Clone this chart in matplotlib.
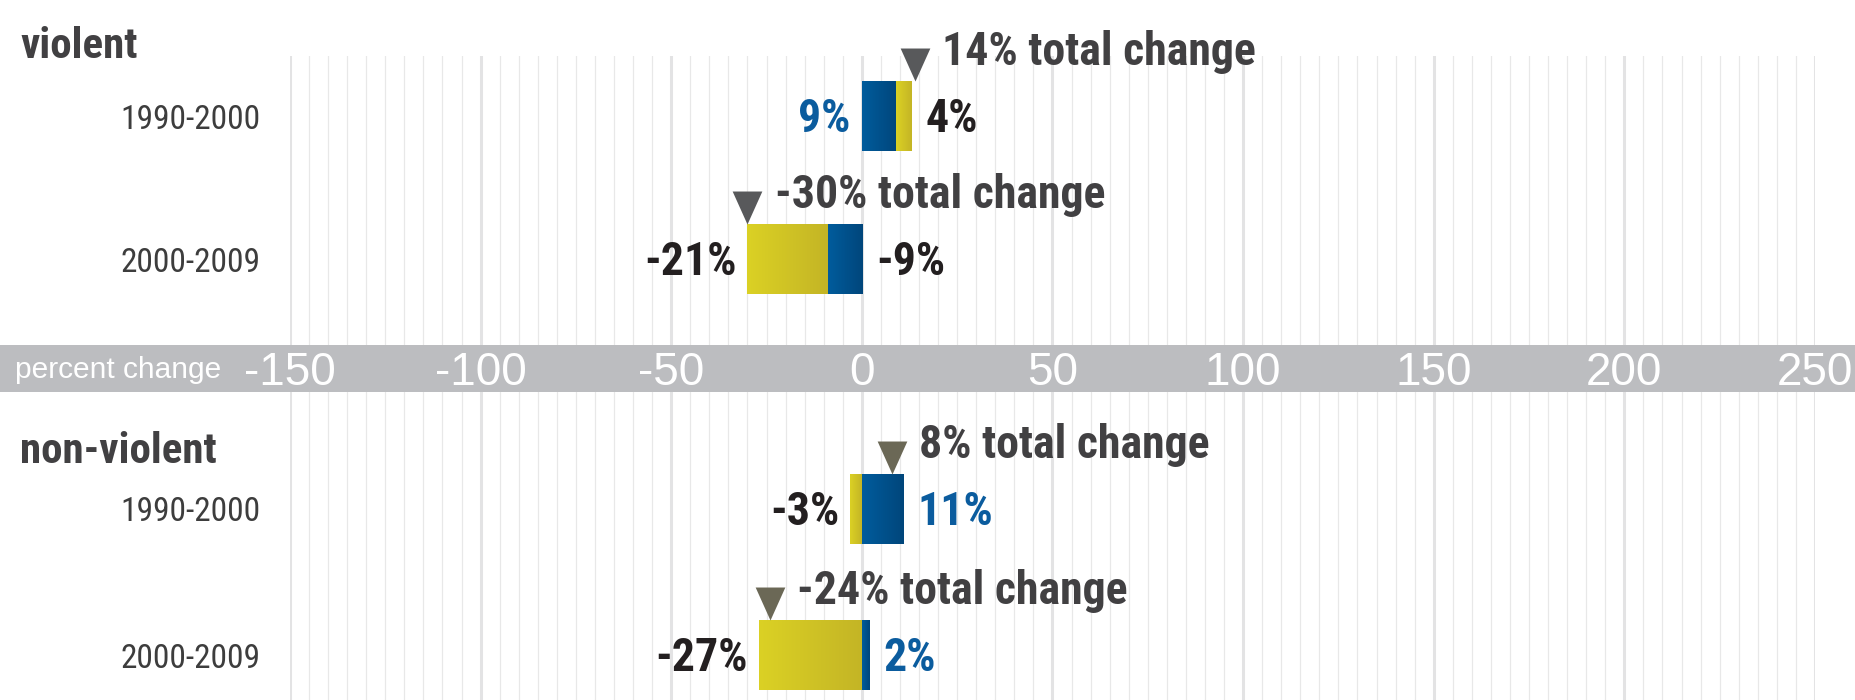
import numpy as np
import matplotlib
matplotlib.use("Agg")
import matplotlib.pyplot as plt
from matplotlib.colors import LinearSegmentedColormap
from matplotlib.patches import Rectangle
from matplotlib import transforms
from matplotlib import font_manager as fm
from matplotlib.font_manager import FontProperties

# ---------------- data ----------------
periods = ["1990-2000", "2000-2009"]
group_titles = ["violent", "non-violent"]

violent_blue = [9, -9]
violent_yellow = [4, -21]
violent_total = [14, -30]

nonviolent_blue = [11, 2]
nonviolent_yellow = [-3, -27]
nonviolent_total = [8, -24]

x_tick_values = [-150, -100, -50, 0, 50, 100, 150, 200, 250]
x_tick_labels = ["-150", "-100", "-50", "0", "50", "100", "150", "200", "250"]
axis_caption = "percent change"


# ---------------- fonts ----------------
def find_condensed(bold):
    prefs = ["liberation sans narrow", "roboto condensed", "open sans condensed",
             "dejavu sans condensed", "dejavu sans", "noto sans", "open sans", "roboto"]
    found = []
    for f in fm.fontManager.ttflist:
        fn = f.fname.lower()
        name = f.name.lower()
        cond = ("narrow" in fn or "condensed" in fn or "narrow" in name or "condensed" in name
                or str(f.stretch) in ("condensed", "semi-condensed", "extra-condensed"))
        if not cond:
            continue
        if f.style != "normal" or "italic" in fn or "oblique" in fn:
            continue
        w = f.weight if isinstance(f.weight, int) else {"bold": 700, "normal": 400}.get(f.weight, 400)
        if bold and w < 600:
            continue
        if not bold and not (350 <= w <= 500):
            continue
        key = name
        if "dejavu" in fn and "condensed" in fn:
            key = "dejavu sans condensed"
        rank = prefs.index(key) if key in prefs else len(prefs)
        found.append((rank, abs(w - (700 if bold else 400)), f.fname))
    if found:
        found.sort()
        return FontProperties(fname=found[0][2])
    return FontProperties(family=["Liberation Sans", "DejaVu Sans"],
                          weight="bold" if bold else "normal")


FP_BOLD = find_condensed(True)
FP_REG = find_condensed(False)
REGULAR = ["Liberation Sans", "DejaVu Sans"]


def fp(base, size):
    p = base.copy()
    p.set_size(size)
    return p


# ---------------- style ----------------
DARK = "#231f20"
TITLE_C = "#414042"
BLUE_TXT = "#0b5c9e"
BLUE_L, BLUE_D = "#005c9d", "#00467b"
YEL_L, YEL_D = "#dbd124", "#c4b526"
BAND = "#bcbdc0"

W, H = 1856, 700
fig = plt.figure(figsize=(W / 100, H / 100), dpi=100)
fig.patch.set_facecolor("white")

ax_left = 290 / W
ax_w = 1525 / W
ax_top = fig.add_axes([ax_left, 1 - 345 / H, ax_w, (345 - 56) / H])
ax_bot = fig.add_axes([ax_left, 0, ax_w, (700 - 392) / H])

# gray band (drawn beneath the axes; axes do not overlap it)
fig.add_artist(Rectangle((0, 1 - 392 / H), 1, 47 / H, transform=fig.transFigure,
                         facecolor=BAND, edgecolor="none", zorder=-1))

blue_cmap = LinearSegmentedColormap.from_list("b", [BLUE_L, BLUE_D])
yel_cmap = LinearSegmentedColormap.from_list("y", [YEL_L, YEL_D])
grad = np.linspace(0, 1, 64).reshape(1, -1)


def gradient_fill(ax, patches, cmap):
    for p in patches:
        x, y = p.get_x(), p.get_y()
        w, h = p.get_width(), p.get_height()
        if w == 0:
            continue
        x0, x1 = min(x, x + w), max(x, x + w)
        im = ax.imshow(grad, cmap=cmap, aspect="auto", extent=[x0, x1, y + h, y],
                       zorder=3, interpolation="bicubic")
        im.set_clip_path(p)


tri_verts = [(0, 0), (-0.45, 1), (0.45, 1), (0, 0)]


def draw_panel(ax, blue, yellow, total, blue_label_colors, tri_color, ylim, bar_h):
    y = np.arange(len(periods))
    blue = np.array(blue, dtype=float)
    yellow = np.array(yellow, dtype=float)
    yellow_left = np.where(np.sign(yellow) == np.sign(blue), blue, 0.0)

    bb = ax.barh(y, blue, left=0, height=bar_h, color=BLUE_L, zorder=2, linewidth=0)
    yb = ax.barh(y, yellow, left=yellow_left, height=bar_h, color=YEL_L, zorder=2, linewidth=0)
    gradient_fill(ax, bb.patches, blue_cmap)
    gradient_fill(ax, yb.patches, yel_cmap)

    for i in range(len(y)):
        b0, b1 = sorted([0, blue[i]])
        y0, y1 = sorted([yellow_left[i], yellow_left[i] + yellow[i]])
        xmin, xmax = min(b0, y0), max(b1, y1)
        blue_txt = (f"{int(blue[i])}%", blue_label_colors[i])
        yel_txt = (f"{int(yellow[i])}%", DARK)
        if y0 < b0:
            left_lab, right_lab = yel_txt, blue_txt
        else:
            left_lab, right_lab = blue_txt, yel_txt
        ax.annotate(left_lab[0], xy=(xmin, y[i]), xytext=(-8, -11.5), textcoords="offset points",
                    ha="right", va="baseline", fontproperties=fp(FP_BOLD, 33),
                    color=left_lab[1], zorder=6)
        ax.annotate(right_lab[0], xy=(xmax, y[i]), xytext=(10, -11.5), textcoords="offset points",
                    ha="left", va="baseline", fontproperties=fp(FP_BOLD, 33),
                    color=right_lab[1], zorder=6)
        top_y = y[i] - bar_h / 2
        ax.plot([total[i]], [top_y], marker=tri_verts, markersize=47.5, color=tri_color,
                markeredgewidth=0, linestyle="none", clip_on=False, zorder=6)
        ax.annotate(f"{total[i]}% total change", xy=(total[i], top_y), xytext=(19.5, 11.5),
                    textcoords="offset points", ha="left", va="baseline",
                    fontproperties=fp(FP_BOLD, 33), color=TITLE_C, zorder=6,
                    annotation_clip=False)

    ax.set_xlim(-150, 250)
    ax.set_ylim(*ylim)
    ax.set_xticks(x_tick_values)
    ax.set_xticks(np.arange(-150, 251, 5), minor=True)
    ax.grid(which="major", axis="x", color="#e3e3e4", linewidth=2.2, zorder=0)
    ax.grid(which="minor", axis="x", color="#e8e8e8", linewidth=0.9, zorder=0)
    ax.set_axisbelow(True)
    ax.tick_params(axis="x", which="both", length=0, labelbottom=False)
    ax.set_yticks(y)
    ax.set_yticklabels(periods, color="#3d3d3d")
    for lbl in ax.get_yticklabels():
        lbl.set_fontproperties(fp(FP_REG, 24))
    ax.tick_params(axis="y", length=0, pad=21.5)
    for s in ax.spines.values():
        s.set_visible(False)
    ax.set_facecolor("none")


draw_panel(ax_top, violent_blue, violent_yellow, violent_total,
           [BLUE_TXT, DARK], "#58595b", (1.601, -0.4196), 0.49)
draw_panel(ax_bot, nonviolent_blue, nonviolent_yellow, nonviolent_total,
           [BLUE_TXT, BLUE_TXT], "#6b6856", (1.308, -0.801), 0.479)

# axis labels in the band
blend = transforms.blended_transform_factory(ax_top.transData, fig.transFigure)
for v, lab in zip(x_tick_values, x_tick_labels):
    ax_top.text(v, 1 - 385 / H, lab, transform=blend, ha="center", va="baseline",
                fontsize=33, family=REGULAR, color="white", zorder=7, clip_on=False)
fig.text(15 / W, 1 - 378 / H, axis_caption, ha="left", va="baseline", fontsize=21.5,
         family=REGULAR, color="white", zorder=7)

# group titles
fig.text(20 / W, 1 - 58 / H, group_titles[0], ha="left", va="baseline",
         fontproperties=fp(FP_BOLD, 31), color=TITLE_C)
fig.text(20 / W, 1 - 463 / H, group_titles[1], ha="left", va="baseline",
         fontproperties=fp(FP_BOLD, 31), color=TITLE_C)

fig.savefig("out.png", dpi=100, facecolor="white")
